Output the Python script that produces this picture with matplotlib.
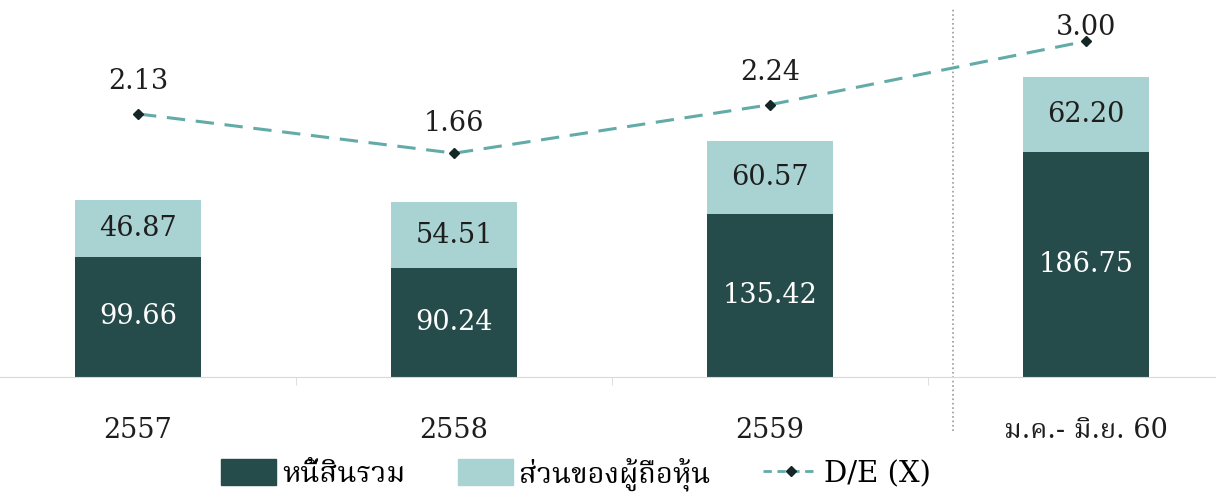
import numpy as np
import matplotlib.pyplot as plt
from matplotlib.lines import Line2D
from matplotlib.patches import Patch

periods = ['2557', '2558', '2559', 'ม.ค.- มิ.ย. 60']
liabilities = [99.66, 90.24, 135.42, 186.75]
equity = [46.87, 54.51, 60.57, 62.20]
de_ratio = [2.13, 1.66, 2.24, 3.00]

dark = '#254c4a'
light = '#a9d3d2'
line_col = '#62aba8'
fonts = ['DejaVu Serif', 'Noto Serif Thai', 'Noto Sans Thai', 'Loma', 'Garuda', 'DejaVu Sans']
plt.rcParams['font.family'] = fonts

fig = plt.figure(figsize=(12.16, 4.92), dpi=100)
ax = fig.add_axes([0, 0.2337, 1, 0.7358])
x = np.arange(len(periods))

ax.bar(x, liabilities, width=0.4, color=dark)
ax.bar(x, equity, width=0.4, bottom=liabilities, color=light)
for i in range(len(x)):
    ax.text(x[i], liabilities[i] / 2, f'{liabilities[i]:.2f}', ha='center', va='center',
            color='white', fontsize=19.5)
    ax.text(x[i], liabilities[i] + equity[i] / 2, f'{equity[i]:.2f}', ha='center', va='center',
            color='#1e1e1e', fontsize=19.5)

ax.set_xlim(-0.437, 3.411)
ax.set_ylim(0, 300)
for s in ['top', 'right', 'left']:
    ax.spines[s].set_visible(False)
ax.spines['bottom'].set_color('#d9d9d9')
ax.set_yticks([])
ax.set_xticks(x)
ax.set_xticklabels(periods, fontsize=19.5, color='#1e1e1e')
ax.tick_params(axis='x', length=0, pad=29)
ax.set_xticks([0.5, 1.5, 2.5], minor=True)
ax.tick_params(axis='x', which='minor', length=6, color='#d9d9d9')

# period divider
ax.axvline(2.58, ymin=-0.15, ymax=1.02, color='#9a9a9a', linestyle=':', linewidth=1.2, clip_on=False)

ax2 = ax.twinx()
ax2.set_ylim(-1.017, 3.313)
ax2.axis('off')
ax2.plot(x, de_ratio, color=line_col, linestyle='--', linewidth=2.2, dashes=(6, 3.5),
         marker='D', markersize=5, markerfacecolor='#152626', markeredgecolor='#152626')
label_off = [32, 30, 32, 14]
for i in range(len(x)):
    ax2.annotate(f'{de_ratio[i]:.2f}', (x[i], de_ratio[i]), xytext=(0, label_off[i] * 0.72),
                 textcoords='offset points', ha='center', va='center', fontsize=19.5, color='#1e1e1e')

handles = [
    Patch(color=dark, label='หนี้สินรวม'),
    Patch(color=light, label='ส่วนของผู้ถือหุ้น'),
    Line2D([], [], color=line_col, linestyle='--', linewidth=2, dashes=(3, 2), marker='D',
           markersize=5, markerfacecolor='#152626', markeredgecolor='#152626', label='D/E (X)'),
]
fig.legend(handles=handles, loc='center', bbox_to_anchor=(576 / 1216, 1 - 474 / 492), ncol=3,
           frameon=False, fontsize=21, handlelength=1.9, handleheight=1.0, handletextpad=0.2,
           columnspacing=1.8, numpoints=1)

fig.savefig('out.png', dpi=100)
